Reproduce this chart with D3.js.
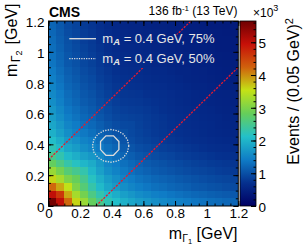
<!DOCTYPE html>
<html>
<head>
<meta charset="utf-8">
<script src="https://cdn.jsdelivr.net/npm/d3@7"></script>
<style>
  html, body { margin: 0; padding: 0; background: #fff; }
  svg { display: block; font-family: "Liberation Sans", Arial, Helvetica, sans-serif; }
</style>
</head>
<body>
<div id="chart"></div>
<script>

// lower bin edges in GeV, same binning on both axes
const binLow = [0, 0.05, 0.1, 0.15, 0.2, 0.25, 0.3, 0.35, 0.4, 0.45, 0.5, 0.55,
                0.6, 0.65, 0.7, 0.75, 0.8, 0.85, 0.9, 0.95, 1.0, 1.05, 1.1, 1.15];
const binWidth = 0.05;

// events per bin (x10^3), one row per m_Gamma2 bin starting at the bottom
const events = [
  [5.6, 5.0, 4.2, 3.6, 3.2, 2.8, 2.5, 2.25, 2.1, 1.95, 1.85, 1.75, 1.68, 1.6, 1.55, 1.5, 1.45, 1.4, 1.35, 1.32, 1.28, 1.25, 1.22, 1.2],
  [5.0, 4.6, 3.86, 3.3, 2.93, 2.56, 2.29, 2.06, 1.92, 1.78, 1.68, 1.59, 1.53, 1.45, 1.41, 1.36, 1.31, 1.26, 1.22, 1.19, 1.15, 1.12, 1.1, 1.08],
  [4.2, 3.86, 3.5, 2.99, 2.65, 2.32, 2.06, 1.85, 1.72, 1.6, 1.51, 1.43, 1.37, 1.3, 1.26, 1.21, 1.17, 1.13, 1.08, 1.06, 1.02, 1.0, 0.97, 0.95],
  [3.6, 3.3, 2.99, 2.81, 2.49, 2.17, 1.93, 1.74, 1.61, 1.49, 1.41, 1.33, 1.27, 1.21, 1.17, 1.13, 1.09, 1.05, 1.01, 0.98, 0.95, 0.92, 0.9, 0.88],
  [3.2, 2.93, 2.65, 2.49, 2.3, 2.01, 1.79, 1.6, 1.49, 1.38, 1.3, 1.23, 1.17, 1.11, 1.07, 1.03, 0.99, 0.96, 0.92, 0.9, 0.87, 0.84, 0.82, 0.8],
  [2.8, 2.56, 2.32, 2.17, 2.01, 1.9, 1.69, 1.51, 1.41, 1.3, 1.23, 1.16, 1.1, 1.05, 1.01, 0.97, 0.94, 0.9, 0.86, 0.84, 0.81, 0.79, 0.77, 0.75],
  [2.5, 2.29, 2.06, 1.93, 1.79, 1.69, 1.55, 1.39, 1.29, 1.19, 1.13, 1.06, 1.01, 0.96, 0.92, 0.89, 0.85, 0.82, 0.79, 0.77, 0.74, 0.72, 0.7, 0.69],
  [2.25, 2.06, 1.85, 1.74, 1.6, 1.51, 1.39, 1.29, 1.2, 1.11, 1.04, 0.98, 0.94, 0.89, 0.85, 0.82, 0.79, 0.76, 0.73, 0.71, 0.68, 0.66, 0.65, 0.63],
  [2.1, 1.92, 1.72, 1.61, 1.49, 1.41, 1.29, 1.2, 1.12, 1.03, 0.97, 0.91, 0.87, 0.83, 0.79, 0.76, 0.73, 0.7, 0.68, 0.66, 0.64, 0.62, 0.6, 0.59],
  [1.95, 1.78, 1.6, 1.49, 1.38, 1.3, 1.19, 1.11, 1.03, 0.99, 0.93, 0.88, 0.84, 0.79, 0.76, 0.73, 0.7, 0.68, 0.65, 0.63, 0.61, 0.59, 0.58, 0.56],
  [1.85, 1.68, 1.51, 1.41, 1.3, 1.23, 1.13, 1.04, 0.97, 0.93, 0.92, 0.86, 0.82, 0.78, 0.75, 0.72, 0.69, 0.66, 0.64, 0.62, 0.6, 0.58, 0.56, 0.55],
  [1.75, 1.59, 1.43, 1.33, 1.23, 1.16, 1.06, 0.98, 0.91, 0.88, 0.86, 0.85, 0.81, 0.77, 0.74, 0.71, 0.68, 0.65, 0.63, 0.61, 0.59, 0.57, 0.55, 0.54],
  [1.68, 1.53, 1.37, 1.27, 1.17, 1.1, 1.01, 0.94, 0.87, 0.84, 0.82, 0.81, 0.78, 0.74, 0.71, 0.68, 0.65, 0.63, 0.6, 0.59, 0.57, 0.55, 0.53, 0.52],
  [1.6, 1.45, 1.3, 1.21, 1.11, 1.05, 0.96, 0.89, 0.83, 0.79, 0.78, 0.77, 0.74, 0.72, 0.69, 0.66, 0.63, 0.61, 0.58, 0.57, 0.55, 0.53, 0.52, 0.5],
  [1.55, 1.41, 1.26, 1.17, 1.07, 1.01, 0.92, 0.85, 0.79, 0.76, 0.75, 0.74, 0.71, 0.69, 0.68, 0.65, 0.62, 0.6, 0.57, 0.56, 0.54, 0.52, 0.51, 0.5],
  [1.5, 1.36, 1.21, 1.13, 1.03, 0.97, 0.89, 0.82, 0.76, 0.73, 0.72, 0.71, 0.68, 0.66, 0.65, 0.62, 0.6, 0.58, 0.55, 0.54, 0.52, 0.5, 0.49, 0.48],
  [1.45, 1.31, 1.17, 1.09, 0.99, 0.94, 0.85, 0.79, 0.73, 0.7, 0.69, 0.68, 0.65, 0.63, 0.62, 0.6, 0.58, 0.55, 0.53, 0.52, 0.5, 0.48, 0.47, 0.46],
  [1.4, 1.26, 1.13, 1.05, 0.96, 0.9, 0.82, 0.76, 0.7, 0.68, 0.66, 0.65, 0.63, 0.61, 0.6, 0.58, 0.55, 0.54, 0.52, 0.51, 0.49, 0.47, 0.46, 0.45],
  [1.35, 1.22, 1.08, 1.01, 0.92, 0.86, 0.79, 0.73, 0.68, 0.65, 0.64, 0.63, 0.6, 0.58, 0.57, 0.55, 0.53, 0.52, 0.51, 0.49, 0.48, 0.46, 0.45, 0.44],
  [1.32, 1.19, 1.06, 0.98, 0.9, 0.84, 0.77, 0.71, 0.66, 0.63, 0.62, 0.61, 0.59, 0.57, 0.56, 0.54, 0.52, 0.51, 0.49, 0.48, 0.47, 0.45, 0.44, 0.43],
  [1.28, 1.15, 1.02, 0.95, 0.87, 0.81, 0.74, 0.68, 0.64, 0.61, 0.6, 0.59, 0.57, 0.55, 0.54, 0.52, 0.5, 0.49, 0.48, 0.47, 0.45, 0.43, 0.42, 0.41],
  [1.25, 1.12, 1.0, 0.92, 0.84, 0.79, 0.72, 0.66, 0.62, 0.59, 0.58, 0.57, 0.55, 0.53, 0.52, 0.5, 0.48, 0.47, 0.46, 0.45, 0.43, 0.43, 0.42, 0.41],
  [1.22, 1.1, 0.97, 0.9, 0.82, 0.77, 0.7, 0.65, 0.6, 0.58, 0.56, 0.55, 0.53, 0.52, 0.51, 0.49, 0.47, 0.46, 0.45, 0.44, 0.42, 0.42, 0.41, 0.4],
  [1.2, 1.08, 0.95, 0.88, 0.8, 0.75, 0.69, 0.63, 0.59, 0.56, 0.55, 0.54, 0.52, 0.5, 0.5, 0.48, 0.46, 0.45, 0.44, 0.43, 0.41, 0.41, 0.4, 0.39]
];

// signal contours for m_A = 0.4 GeV, points in GeV
const contour75 = [[0.445, 0.418], [0.411, 0.455], [0.363, 0.455], [0.329, 0.418],
                   [0.329, 0.366], [0.363, 0.329], [0.411, 0.329], [0.445, 0.366]];
const contour50 = [[0.508, 0.390], [0.499, 0.431], [0.474, 0.465], [0.437, 0.488],
                   [0.393, 0.496], [0.349, 0.488], [0.312, 0.465], [0.287, 0.431],
                   [0.278, 0.390], [0.287, 0.349], [0.312, 0.315], [0.349, 0.292],
                   [0.393, 0.284], [0.437, 0.292], [0.474, 0.315], [0.499, 0.349]];

// |m1 - m2| = 0.3 GeV boundaries
const diagLines = [[[0, 0.3], [0.9, 1.2]], [[0.3, 0], [1.2, 0.9]]];

const axisTicks = [0, 0.2, 0.4, 0.6, 0.8, 1, 1.2];
const zTicks = [0, 1, 2, 3, 4, 5];
const zMax = 5.65;

// ROOT kRainBow palette
const paletteStops = [0, 0.125, 0.25, 0.375, 0.5, 0.625, 0.75, 0.875, 1];
const paletteColors = ["rgb(0,0,99)", "rgb(5,48,142)", "rgb(15,124,198)", "rgb(35,192,201)",
  "rgb(102,206,90)", "rgb(196,226,22)", "rgb(208,97,13)", "rgb(199,16,8)", "rgb(110,0,2)"];

const width = 305, height = 249;
const plotL = 48.5, plotR = 238.3, plotT = 21, plotB = 206;
const barL = 240, barR = 256;

const x = d3.scaleLinear().domain([0, 1.2]).range([plotL, plotR]);
const y = d3.scaleLinear().domain([0, 1.2]).range([plotB, plotT]);
const zy = d3.scaleLinear().domain([0, zMax]).range([plotB, plotT]);
const color = d3.scaleLinear()
  .domain(paletteStops.map(s => s * zMax))
  .range(paletteColors)
  .clamp(true);

const svg = d3.select("#chart").append("svg")
  .attr("width", width)
  .attr("height", height);

// histogram cells
const cells = [];
events.forEach((row, j) => row.forEach((v, i) => cells.push({ m1: binLow[i], m2: binLow[j], v })));

svg.append("g")
  .attr("shape-rendering", "crispEdges")
  .selectAll("rect")
  .data(cells)
  .join("rect")
  .attr("x", d => Math.round(x(d.m1)))
  .attr("y", d => Math.round(y(d.m2 + binWidth)))
  .attr("width", d => Math.round(x(d.m1 + binWidth)) - Math.round(x(d.m1)))
  .attr("height", d => Math.round(y(d.m2)) - Math.round(y(d.m2 + binWidth)))
  .attr("fill", d => color(d.v));

// legend area hides the diagonal line behind it
const defs = svg.append("defs");
const mask = defs.append("mask").attr("id", "legend-mask");
mask.append("rect").attr("x", 0).attr("y", 0).attr("width", width).attr("height", height).attr("fill", "white");
mask.append("rect").attr("x", 62).attr("y", 34.5).attr("width", 174).attr("height", 33.5).attr("fill", "black");

svg.append("g")
  .attr("mask", "url(#legend-mask)")
  .selectAll("line")
  .data(diagLines)
  .join("line")
  .attr("x1", d => x(d[0][0])).attr("y1", d => y(d[0][1]))
  .attr("x2", d => x(d[1][0])).attr("y2", d => y(d[1][1]))
  .attr("stroke", "#e8182c")
  .attr("stroke-width", 1.3)
  .attr("stroke-dasharray", "2.2,1.3");

// contours
const contourLine = d3.line().x(d => x(d[0])).y(d => y(d[1])).curve(d3.curveLinearClosed);
svg.append("path")
  .attr("d", contourLine(contour75))
  .attr("fill", "none")
  .attr("stroke", "#dcdcdc")
  .attr("stroke-width", 1.3);
svg.append("path")
  .attr("d", contourLine(contour50))
  .attr("fill", "none")
  .attr("stroke", "#dcdcdc")
  .attr("stroke-width", 1.3)
  .attr("stroke-dasharray", "1.3,1.3");

// axes, ticks drawn inside the frame on all sides
const minorTicks = d3.range(0, 1.2001, 0.05);

function styleAxis(g, fontSize) {
  g.select(".domain").remove();
  g.selectAll(".tick line").attr("stroke", "#000");
  g.attr("font-family", null).attr("font-size", fontSize);
  g.selectAll("text").attr("fill", "#000");
}

function noLabel() { return ""; }

[
  [d3.axisBottom(x), `translate(0,${plotB})`],
  [d3.axisTop(x), `translate(0,${plotT})`],
  [d3.axisLeft(y), `translate(${plotL},0)`],
  [d3.axisRight(y), `translate(${plotR},0)`]
].forEach(([axis, tr]) => {
  svg.append("g").attr("transform", tr)
    .call(axis.tickValues(minorTicks).tickSize(-2.5).tickFormat(noLabel))
    .call(g => styleAxis(g, 10));
});

svg.append("g").attr("transform", `translate(0,${plotT})`)
  .call(d3.axisTop(x).tickValues(axisTicks).tickSize(-5).tickFormat(noLabel))
  .call(g => styleAxis(g, 10));
svg.append("g").attr("transform", `translate(${plotR},0)`)
  .call(d3.axisRight(y).tickValues(axisTicks).tickSize(-5).tickFormat(noLabel))
  .call(g => styleAxis(g, 10));

svg.append("g").attr("transform", `translate(0,${plotB})`)
  .call(d3.axisBottom(x).tickValues(axisTicks).tickSize(-5).tickPadding(2.7).tickFormat(d3.format("~g")))
  .call(g => styleAxis(g, 13.5));
svg.append("g").attr("transform", `translate(${plotL},0)`)
  .call(d3.axisLeft(y).tickValues(axisTicks).tickSize(-5).tickPadding(4).tickFormat(d3.format("~g")))
  .call(g => styleAxis(g, 13.5))
  .call(g => g.selectAll("text").attr("dy", "0.4em"));

// frame
svg.append("rect")
  .attr("x", plotL).attr("y", plotT)
  .attr("width", plotR - plotL).attr("height", plotB - plotT)
  .attr("fill", "none").attr("stroke", "#000").attr("stroke-width", 1);

// colour bar
const grad = defs.append("linearGradient").attr("id", "zgrad")
  .attr("x1", 0).attr("y1", 1).attr("x2", 0).attr("y2", 0);
grad.selectAll("stop").data(paletteStops).join("stop")
  .attr("offset", d => d)
  .attr("stop-color", (d, i) => paletteColors[i]);

svg.append("rect")
  .attr("x", barL).attr("y", zy(zMax))
  .attr("width", barR - barL).attr("height", zy(0) - zy(zMax))
  .attr("fill", "url(#zgrad)")
  .attr("stroke", "#000").attr("stroke-width", 0.8);

svg.append("g").attr("transform", `translate(${barR},0)`)
  .call(d3.axisRight(zy).tickValues(d3.range(0, zMax, 0.2)).tickSize(-2.5).tickFormat(noLabel))
  .call(g => styleAxis(g, 10));
svg.append("g").attr("transform", `translate(${barR},0)`)
  .call(d3.axisRight(zy).tickValues(zTicks).tickSize(-5).tickPadding(2.5).tickFormat(d3.format("d")))
  .call(g => styleAxis(g, 13.5))
  .call(g => g.selectAll("text").attr("dy", "0.4em"));

// x10^3 multiplier
const mult = svg.append("text").attr("x", 253).attr("y", 16.7).attr("font-size", 12);
mult.append("tspan").text("\u00d710");
mult.append("tspan").attr("font-size", 9).attr("dy", -6).text("3");

// axis titles
const xTitle = svg.append("text")
  .attr("x", 237.5).attr("y", 239)
  .attr("text-anchor", "end").attr("font-size", 16);
xTitle.append("tspan").text("m");
xTitle.append("tspan").attr("font-size", 10.5).attr("dy", 3).text("\u0393");
xTitle.append("tspan").attr("font-size", 7.5).attr("dy", 2).text("1");
xTitle.append("tspan").attr("dy", -5).text(" [GeV]");

const yTitle = svg.append("text")
  .attr("transform", "translate(17,3.5) rotate(-90)")
  .attr("text-anchor", "end").attr("font-size", 16);
yTitle.append("tspan").text("m");
yTitle.append("tspan").attr("font-size", 12.5).attr("dx", 1.5).attr("dy", 3).text("\u0393");
yTitle.append("tspan").attr("font-size", 9).attr("dy", 2).text("2");
yTitle.append("tspan").attr("dx", 1.5).attr("dy", -5).text(" [GeV]");

const zTitle = svg.append("text")
  .attr("transform", "translate(299,18) rotate(-90)")
  .attr("text-anchor", "end").attr("font-size", 16);
zTitle.append("tspan").text("Events / (0.05 GeV)");
zTitle.append("tspan").attr("font-size", 11).attr("dy", -6).text("2");

// header
svg.append("text")
  .attr("x", 49).attr("y", 16.7)
  .attr("font-size", 14).attr("font-weight", "bold")
  .text("CMS");

const lumi = svg.append("text")
  .attr("x", 237.5).attr("y", 15)
  .attr("text-anchor", "end").attr("font-size", 12);
lumi.append("tspan").text("136 fb");
lumi.append("tspan").attr("font-size", 8).attr("dy", -4.5).text("-1");
lumi.append("tspan").attr("dy", 4.5).text(" (13 TeV)");

// legend
const legendEntries = [
  { label: " = 0.4 GeV, 75%", dash: null },
  { label: " = 0.4 GeV, 50%", dash: "1.2,1.2" }
];
const legend = svg.append("g");
legendEntries.forEach((e, k) => {
  const ly = 38.7 + k * 20;
  legend.append("line")
    .attr("x1", 69.3).attr("x2", 96).attr("y1", ly).attr("y2", ly)
    .attr("stroke", "#e0e0e0").attr("stroke-width", 1.3)
    .attr("stroke-dasharray", e.dash);
  const t = legend.append("text")
    .attr("x", 102.3).attr("y", ly + 4.2)
    .attr("font-size", 13).attr("fill", "#e6e6e6");
  t.append("tspan").text("m");
  t.append("tspan").attr("font-size", 9.5).attr("font-weight", "bold").attr("font-style", "italic")
    .attr("dy", 2.5).text("A");
  t.append("tspan").attr("dy", -2.5).text(e.label);
});

</script>
</body>
</html>
